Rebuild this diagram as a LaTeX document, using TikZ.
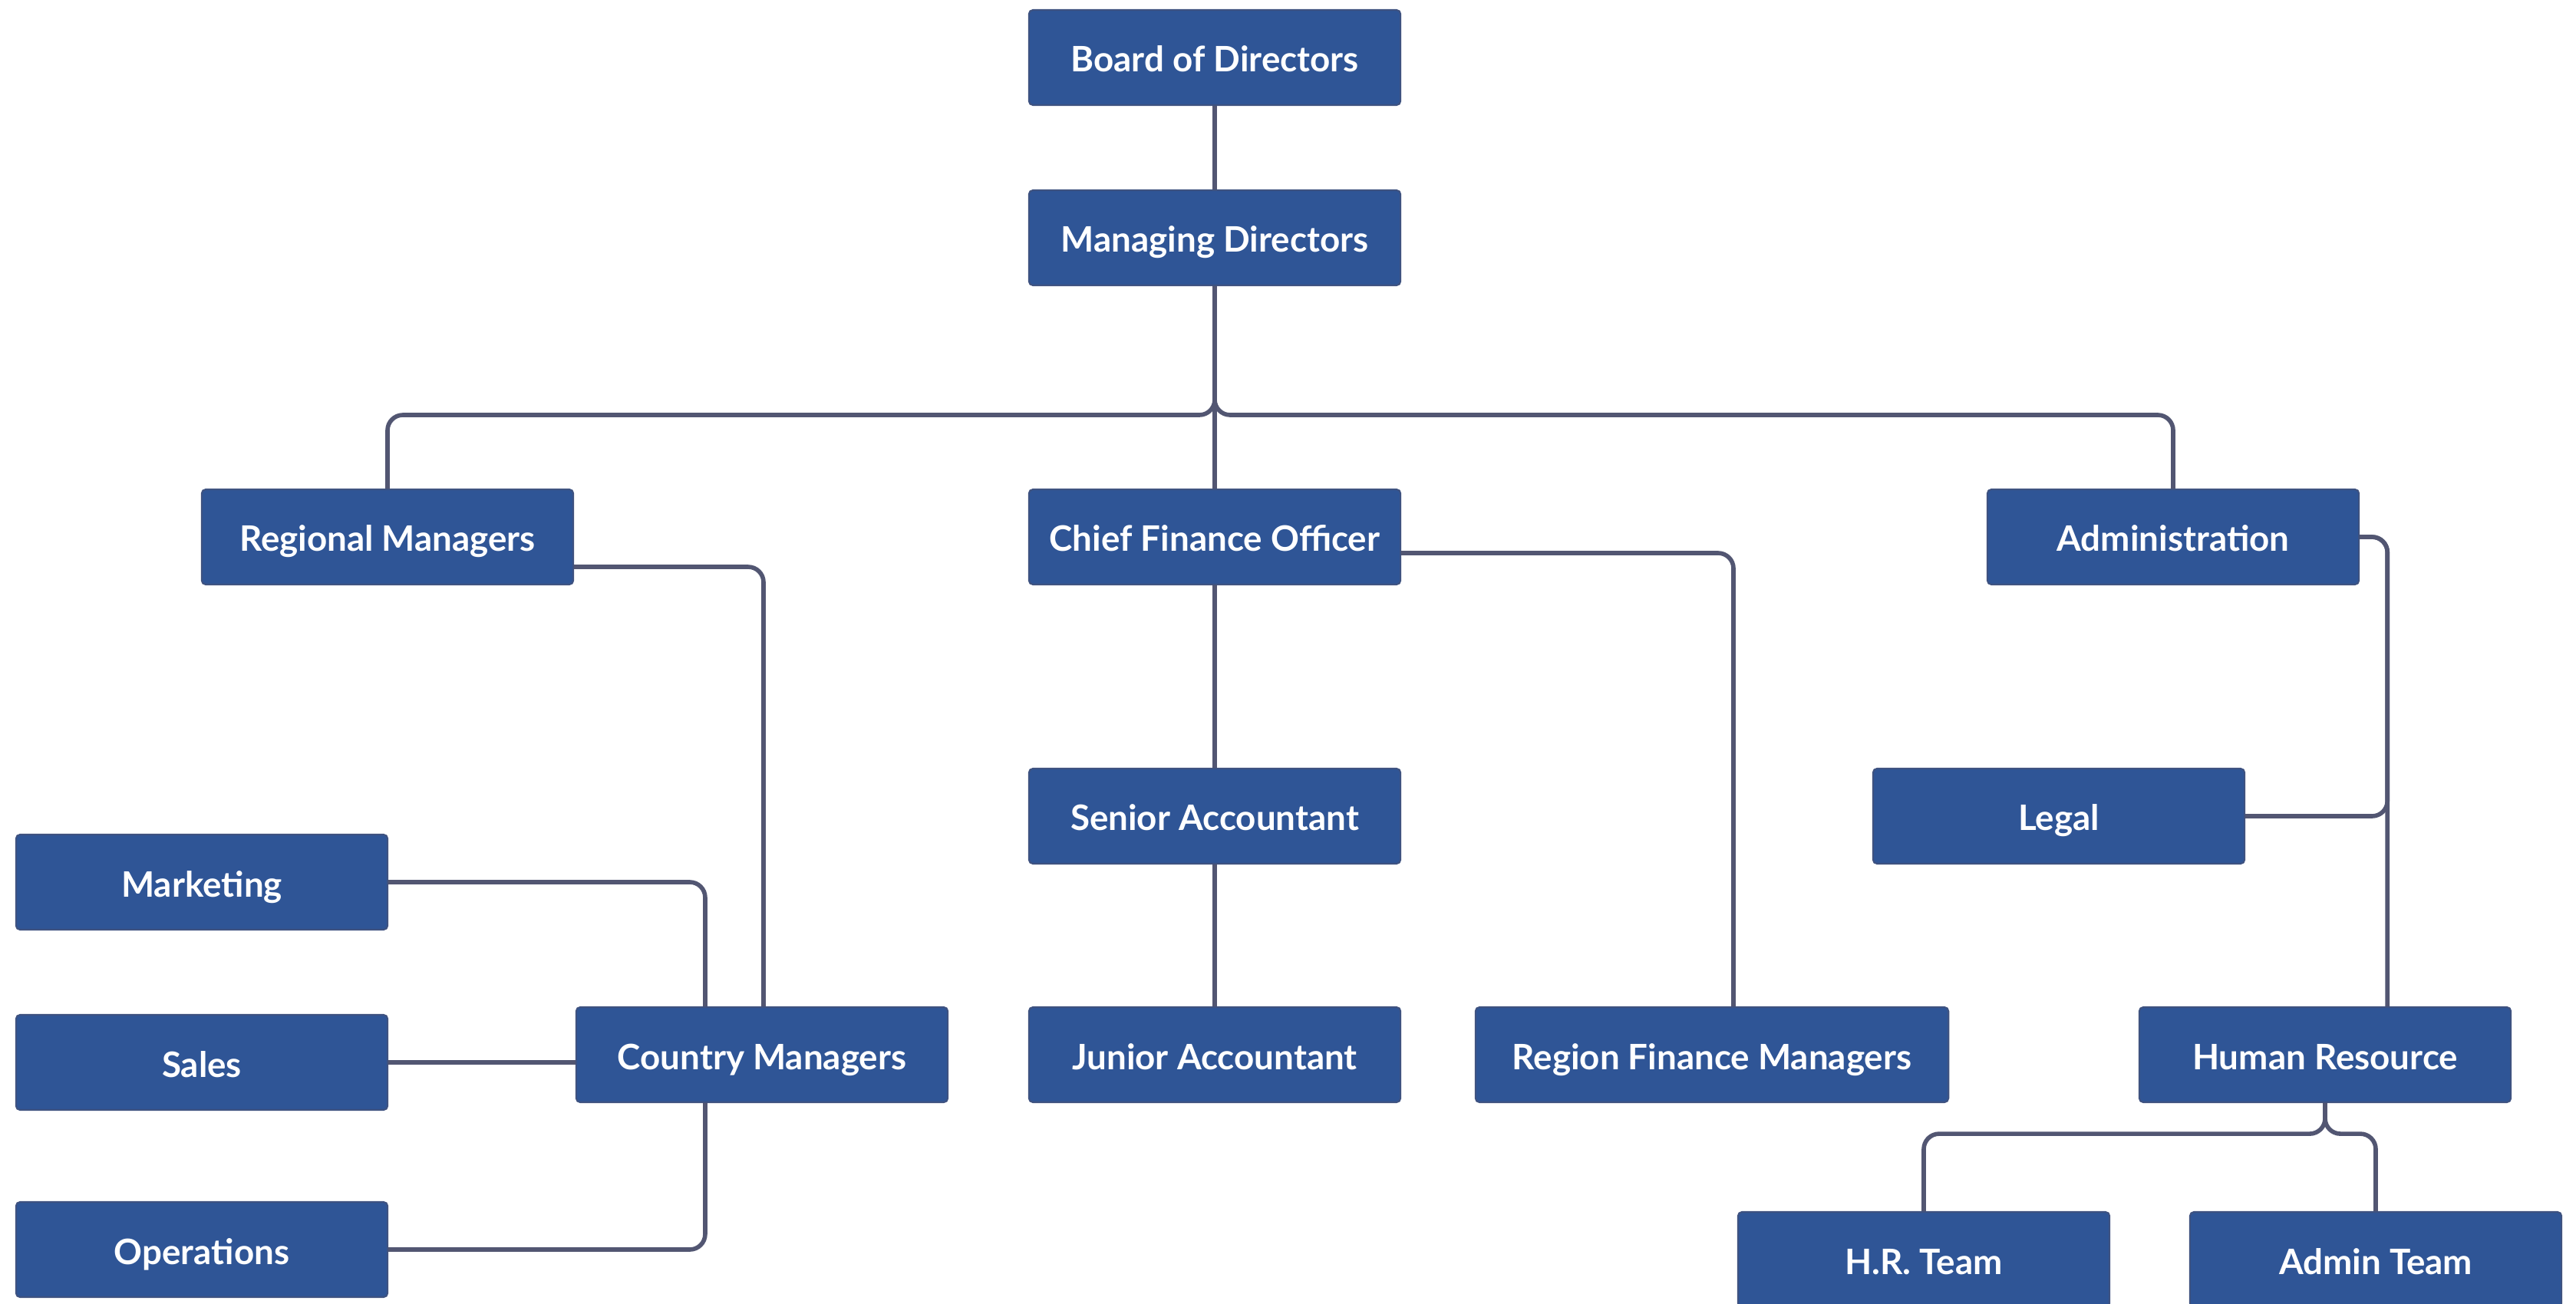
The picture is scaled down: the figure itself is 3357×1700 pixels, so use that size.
\documentclass[tikz,border=0pt]{standalone}
\usepackage{fontspec}
\setmainfont{Lato}
\definecolor{boxblue}{RGB}{47,85,150}
\definecolor{boxedge}{RGB}{62,82,128}
\definecolor{linkgray}{RGB}{82,86,114}
\begin{document}
\begin{tikzpicture}[x=0.01cm,y=-0.01cm,
  unit/.style={rectangle,rounded corners=1.5pt,fill=boxblue,draw=boxedge,line width=0.6pt,
    minimum width=4.84cm,minimum height=1.24cm,inner sep=0pt,text=white,
    text height=11pt,text depth=0.2pt,
    font=\fontsize{13}{15}\selectfont\bfseries},
  link/.style={draw=linkgray,line width=1.6pt,rounded corners=0.2cm}]
\useasboundingbox (0,0) rectangle (3357,1700);
% top levels
\node[unit] (board) at (1583,75) {Board of Directors};
\node[unit] (md) at (1583,310) {Managing Directors};
% heads
\node[unit] (rm) at (505,700) {Regional Managers};
\node[unit] (cfo) at (1583,700) {Chief Finance Officer};
\node[unit] (adm) at (2832,700) {Administration};
% middle
\node[unit] (sa) at (1583,1064) {Senior Accountant};
\node[unit] (legal) at (2683,1064) {Legal};
% lower
\node[unit] (mkt) at (263,1150) {Marketing};
\node[unit] (sales) at (263,1385) {Sales};
\node[unit] (ops) at (263,1629) {Operations};
\node[unit] (cm) at (993,1375) {Country Managers};
\node[unit] (ja) at (1583,1375) {Junior Accountant};
\node[unit,minimum width=6.16cm] (rfm) at (2231,1375) {Region Finance Managers};
\node[unit] (hr) at (3030,1375) {Human Resource};
\node[unit] (hrt) at (2507,1642) {H.R. Team};
\node[unit] (at) at (3096,1642) {Admin Team};
% connectors
\coordinate (bus) at (1583,541);
\coordinate (admturn) at ([xshift=0.36cm]adm.east);
\draw[link] (board) -- (md);
\draw[link] (md) -- (cfo);
\draw[link] (md.south) -- (bus) -| (rm.north);
\draw[link] (md.south) -- (bus) -| (adm.north);
\draw[link] ([yshift=-0.39cm]rm.east) -| ([xshift=0.02cm]cm.north);
\draw[link] ([yshift=-0.21cm]cfo.east) -| ([xshift=0.28cm]rfm.north);
\draw[link] (cfo) -- (sa);
\draw[link] (sa) -- (ja);
\draw[link] (adm.east) -- (admturn) |- (legal.east);
\draw[link] (adm.east) -- (admturn) -- (admturn |- hr.north);
\draw[link] (mkt.east) -| ([xshift=-0.74cm]cm.north);
\draw[link] (sales.east) -- (sales.east -| cm.west);
\draw[link] (ops.east) -| ([xshift=-0.74cm]cm.south);
\draw[link] (hr.south) -- ++(0,40) -| (hrt.north);
\draw[link] (hr.south) -- ++(0,40) -| (at.north);
\end{tikzpicture}
\end{document}
